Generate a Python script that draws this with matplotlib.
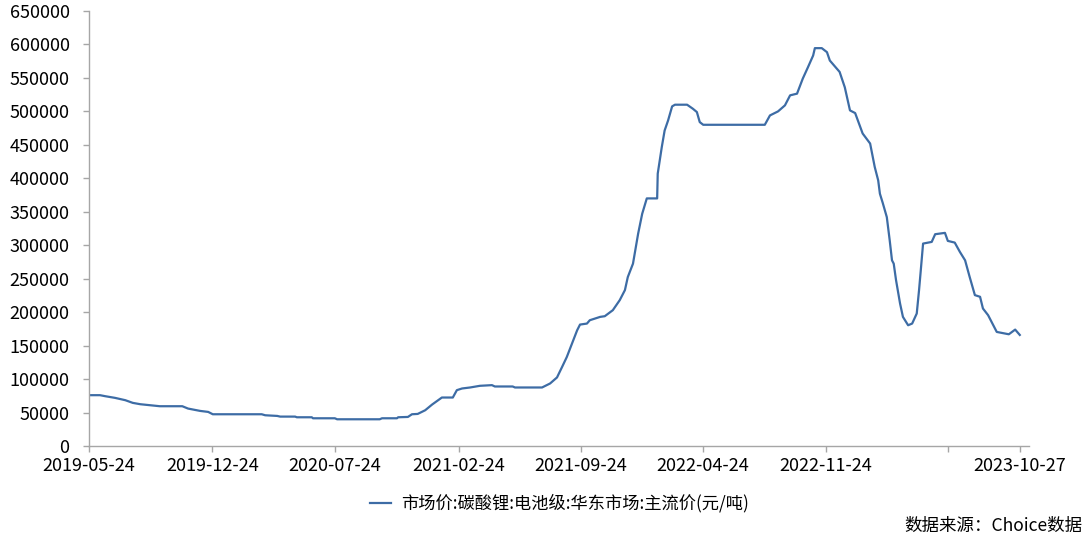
import pandas as pd
import numpy as np
import matplotlib
matplotlib.use('Agg')
import matplotlib.pyplot as plt
import matplotlib.dates as mdates

plt.rcParams['font.family'] = ['Noto Sans CJK SC', 'DejaVu Sans']

# 碳酸锂(电池级) 华东市场主流价
dates = ['2019-05-24', '2019-06-12', '2019-06-21', '2019-07-08', '2019-07-26',
         '2019-08-08', '2019-08-21', '2019-09-07', '2019-09-24', '2019-11-02',
         '2019-11-12', '2019-12-03', '2019-12-17', '2019-12-25', '2020-03-19',
         '2020-03-25', '2020-04-15', '2020-04-20', '2020-05-16', '2020-05-19',
         '2020-06-14', '2020-06-16', '2020-07-24', '2020-07-28', '2020-10-10',
         '2020-10-14', '2020-11-09', '2020-11-11', '2020-11-28', '2020-12-05',
         '2020-12-15', '2020-12-28', '2021-01-09', '2021-01-26', '2021-02-14',
         '2021-02-21', '2021-03-02', '2021-03-16', '2021-04-02', '2021-04-23',
         '2021-04-28', '2021-05-29', '2021-06-02', '2021-07-19', '2021-08-02',
         '2021-08-14', '2021-08-23', '2021-08-31', '2021-09-09', '2021-09-18',
         '2021-09-23', '2021-10-05', '2021-10-10', '2021-10-28', '2021-11-05',
         '2021-11-19', '2021-12-01', '2021-12-10', '2021-12-15', '2021-12-24',
         '2022-01-02', '2022-01-09', '2022-01-17', '2022-02-04', '2022-02-05',
         '2022-02-12', '2022-02-17', '2022-02-23', '2022-03-02', '2022-03-07',
         '2022-03-28', '2022-04-07', '2022-04-14', '2022-04-19', '2022-04-25',
         '2022-08-10', '2022-08-19', '2022-09-02', '2022-09-14', '2022-09-23',
         '2022-10-05', '2022-10-15', '2022-10-24', '2022-11-02', '2022-11-05',
         '2022-11-17', '2022-11-26', '2022-12-01', '2022-12-18', '2022-12-27',
         '2023-01-05', '2023-01-14', '2023-01-27', '2023-02-09', '2023-02-17',
         '2023-02-23', '2023-02-26', '2023-03-03', '2023-03-10', '2023-03-15',
         '2023-03-19', '2023-03-22', '2023-03-26', '2023-04-02', '2023-04-07',
         '2023-04-16', '2023-04-23', '2023-05-01', '2023-05-05', '2023-05-08',
         '2023-05-12', '2023-05-27', '2023-06-02', '2023-06-19', '2023-06-24',
         '2023-07-06', '2023-07-15', '2023-07-24', '2023-08-01', '2023-08-10',
         '2023-08-19', '2023-08-24', '2023-09-02', '2023-09-17', '2023-10-08',
         '2023-10-19', '2023-10-27']
prices = [76000, 76000, 74500, 72000, 68500,
          64500, 62500, 61000, 59500, 59500,
          56000, 52500, 51000, 47500, 47500,
          46000, 45000, 44000, 44000, 43000,
          43000, 41500, 41500, 40000, 40000,
          41500, 41500, 43000, 43500, 47500,
          48000, 53500, 62000, 72500, 72500,
          83500, 86000, 87500, 90000, 91000,
          89000, 89000, 87500, 87500, 93500,
          102500, 118500, 133000, 153000, 173000,
          181500, 183000, 188000, 193000, 194000,
          203000, 218000, 233000, 252500, 272500,
          317500, 347000, 370000, 370000, 407000,
          446500, 471500, 486500, 507500, 510000,
          510000, 504000, 499000, 484000, 480000,
          480000, 494000, 500000, 509000, 524000,
          526500, 549000, 566000, 583500, 594500,
          594500, 588500, 576000, 559000, 536000,
          501500, 497500, 467000, 452000, 417000,
          397000, 377000, 363000, 342000, 307500,
          277500, 272500, 248000, 213000, 193000,
          180500, 183000, 198000, 233000, 262500,
          302500, 305000, 316500, 318500, 306500,
          304000, 290000, 277500, 252500, 225500,
          223000, 205500, 195500, 170500, 167000,
          174000, 166000]

tick_dates = ['2019-05-24', '2019-12-24', '2020-07-24', '2021-02-24',
              '2021-09-24', '2022-04-24', '2022-11-24', '2023-06-24',
              '2023-10-27']
tick_labels = ['2019-05-24', '2019-12-24', '2020-07-24', '2021-02-24',
               '2021-09-24', '2022-04-24', '2022-11-24', '',
               '2023-10-27']
y_ticks = list(range(0, 650001, 50000))

series_name = '市场价:碳酸锂:电池级:华东市场:主流价(元/吨)'
source = '数据来源：Choice数据'

df = pd.DataFrame({'date': pd.to_datetime(dates), 'price': prices})

fig = plt.figure(figsize=(10.86, 5.5), dpi=100)
ax = fig.add_axes([0.082, 0.189, 0.8655, 0.791])
ax.plot(df['date'], df['price'], color='#3D6CA5', linewidth=1.6,
        label=series_name)

ax.set_ylim(0, 650000)
ax.set_yticks(y_ticks)
ax.set_yticklabels([str(v) for v in y_ticks])
ax.set_xlim(pd.Timestamp('2019-05-24'), pd.Timestamp('2023-11-12'))
ax.set_xticks(pd.to_datetime(tick_dates))
ax.set_xticklabels(tick_labels)

for s in ['top', 'right']:
    ax.spines[s].set_visible(False)
for s in ['left', 'bottom']:
    ax.spines[s].set_color('#A6A6A6')
    ax.spines[s].set_linewidth(1.0)
ax.tick_params(axis='both', colors='#A6A6A6', length=4, width=1.0,
               labelcolor='black', labelsize=13)
ax.tick_params(axis='y', pad=10)
ax.tick_params(axis='x', pad=4)

fig.legend(loc='center', bbox_to_anchor=(0.515, 0.085), frameon=False,
           fontsize=12.4, handlelength=1.2, handletextpad=0.6)
fig.text(0.997, 0.043, source, ha='right', va='center', fontsize=12.6)

fig.savefig('out.png', dpi=100)
